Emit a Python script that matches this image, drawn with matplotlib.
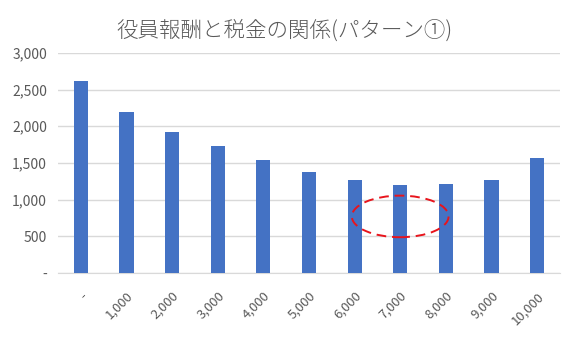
import matplotlib.pyplot as plt
from matplotlib.patches import Ellipse

plt.rcParams['font.family'] = ['Noto Sans CJK JP', 'DejaVu Sans']

# values
salary = [0, 1000, 2000, 3000, 4000, 5000, 6000, 7000, 8000, 9000, 10000]
tax = [2620, 2200, 1918, 1727, 1541, 1382, 1264, 1200, 1214, 1268, 1573]
x_labels = ['-' if s == 0 else f'{s:,}' for s in salary]
y_ticks = [0, 500, 1000, 1500, 2000, 2500, 3000]
y_labels = ['-' if v == 0 else f'{v:,}' for v in y_ticks]

fig = plt.figure(figsize=(5.69, 3.39), dpi=100)
ax = fig.add_axes([0.102, 0.195, 0.882, 0.649])

xs = range(len(tax))
ax.bar(xs, tax, width=0.31, color='#4472c4', zorder=3)

ax.set_xlim(-0.5, len(tax) - 0.5)
ax.set_ylim(0, 3000)
ax.set_yticks(y_ticks)
ax.set_yticklabels(y_labels, fontsize=10, color='#595959')
ax.set_xticks(list(xs))
ax.set_xticklabels(x_labels, fontsize=9.5, color='#595959', rotation=45,
                   ha='right', rotation_mode='anchor')
ax.tick_params(length=0, pad=8)
ax.tick_params(axis='x', pad=12)

ax.grid(axis='y', color='#d9d9d9', linewidth=1, zorder=0)
for s in ['top', 'right', 'left']:
    ax.spines[s].set_visible(False)
ax.spines['bottom'].set_color('#d9d9d9')

# dashed highlight around the minimum
ell = Ellipse((7, 770), width=2.12, height=567, fill=False,
              edgecolor='#e8141c', linestyle=(0, (5, 3)), linewidth=1.4, zorder=4)
ax.add_patch(ell)

fig.text(0.5, 0.91, '役員報酬と税金の関係(パターン①)', ha='center', va='center',
         fontsize=15.5, color='#595959', fontweight='light')

fig.savefig('out.png', dpi=100)
